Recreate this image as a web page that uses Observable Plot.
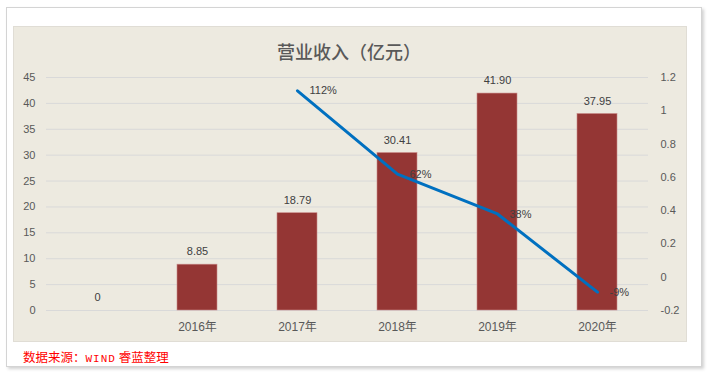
<!DOCTYPE html>
<html>
<head>
<meta charset="utf-8">
<script src="https://cdn.jsdelivr.net/npm/d3@7"></script>
<script src="https://cdn.jsdelivr.net/npm/@observablehq/plot@0.6"></script>
<style>
  html, body { margin: 0; padding: 0; background: #ffffff; }
  #stage { position: relative; width: 709px; height: 376px; overflow: hidden; font-family: "Liberation Sans", "Noto Sans CJK SC", sans-serif; }
  #outer { position: absolute; left: 6px; top: 7px; width: 694px; height: 358px; background: #fff; border: 1px solid #d4d4d4; box-shadow: 2px 2px 3px rgba(0,0,0,0.18); }
  #panel { position: absolute; left: 13px; top: 26px; width: 674px; height: 316px; background: #edeae0; border: 1px solid #e0ddd5; box-sizing: border-box; }
  #title { position: absolute; left: 0; width: 698px; top: 38px; text-align: center; font-size: 18px; font-weight: 500; color: #595959; font-family: "Noto Sans CJK SC", sans-serif; letter-spacing: 0px; }
  #source { position: absolute; left: 23px; top: 347px; font-size: 12.5px; color: #ff0000; font-family: "Noto Sans CJK SC", "DejaVu Sans Mono", monospace; }
  #source .mono { font-family: "Liberation Mono", "DejaVu Sans Mono", monospace; font-size: 11px; letter-spacing: 1px; }
  #chart { position: absolute; left: 0; top: 0; }
</style>
</head>
<body>
<div id="stage">
  <div id="outer"></div>
  <div id="panel"></div>
  <div id="title">营业收入（亿元）</div>
  <div id="chart"></div>
  <div id="source">数据来源：<span class="mono">WIND</span> 睿蓝整理</div>
</div>
<script>
// ---- data ----
const categories = ["", "2016年", "2017年", "2018年", "2019年", "2020年"];
const revenue = [0, 8.85, 18.79, 30.41, 41.90, 37.95];
const revenueLabels = ["0", "8.85", "18.79", "30.41", "41.90", "37.95"];
const growthCategories = ["2017年", "2018年", "2019年", "2020年"];
const growth = [1.12, 0.62, 0.38, -0.09];
const growthLabels = ["112%", "62%", "38%", "-9%"];
const leftTicks = [0, 5, 10, 15, 20, 25, 30, 35, 40, 45];
const rightTicks = [-0.2, 0, 0.2, 0.4, 0.6, 0.8, 1, 1.2];

// ---- tables ----
const bars = categories.map((c, i) => ({cat: c, value: revenue[i], label: revenueLabels[i]}));
const line = growthCategories.map((c, i) => ({cat: c, g: growth[i], label: growthLabels[i]}));

// map right-axis values onto left-axis domain
const rMin = -0.2, rMax = 1.2, lMax = 45;
const toLeft = r => (r - rMin) / (rMax - rMin) * lMax;
const fromLeft = l => l / lMax * (rMax - rMin) + rMin;

const font = "Liberation Sans, Noto Sans CJK SC, sans-serif";

const chart = Plot.plot({
  width: 709,
  height: 376,
  marginLeft: 46,
  marginRight: 61,
  marginTop: 77,
  marginBottom: 66,
  style: {background: "transparent", fontFamily: font, fontSize: "11px", color: "#595959", overflow: "visible"},
  x: {domain: categories, paddingInner: 0.6, paddingOuter: 0.3, label: null},
  y: {domain: [0, 45], label: null},
  marks: [
    Plot.ruleY(leftTicks, {stroke: "#d9d9d9", strokeWidth: 1}),
    Plot.axisY({anchor: "left", ticks: leftTicks, tickSize: 0, tickPadding: 11, label: null, fontSize: 11, fill: "#595959"}),
    Plot.axisY({anchor: "right", ticks: rightTicks.map(toLeft), tickSize: 0, tickPadding: 12, label: null, fontSize: 11, fill: "#595959",
      tickFormat: d => { const v = Math.round(fromLeft(d) * 10) / 10; return String(v); }}),
    Plot.axisX({tickSize: 0, tickPadding: 12, label: null, fontSize: 12, fill: "#595959", fontFamily: "Liberation Sans, Noto Sans CJK SC, sans-serif"}),
    Plot.barY(bars, {x: "cat", y: "value", fill: "#943634", stroke: "#c98a88", strokeWidth: 0.6}),
    Plot.text(bars, {x: "cat", y: "value", text: "label", dy: -13, fill: "#404040", fontSize: 11}),
    Plot.line(line, {x: "cat", y: d => toLeft(d.g), stroke: "#0070c0", strokeWidth: 3, strokeLinejoin: "round"}),
    Plot.text(line, {x: "cat", y: d => toLeft(d.g), text: "label", textAnchor: "start", dx: 12, fill: "#404040", fontSize: 11})
  ]
});
document.getElementById("chart").appendChild(chart);
</script>
</body>
</html>
